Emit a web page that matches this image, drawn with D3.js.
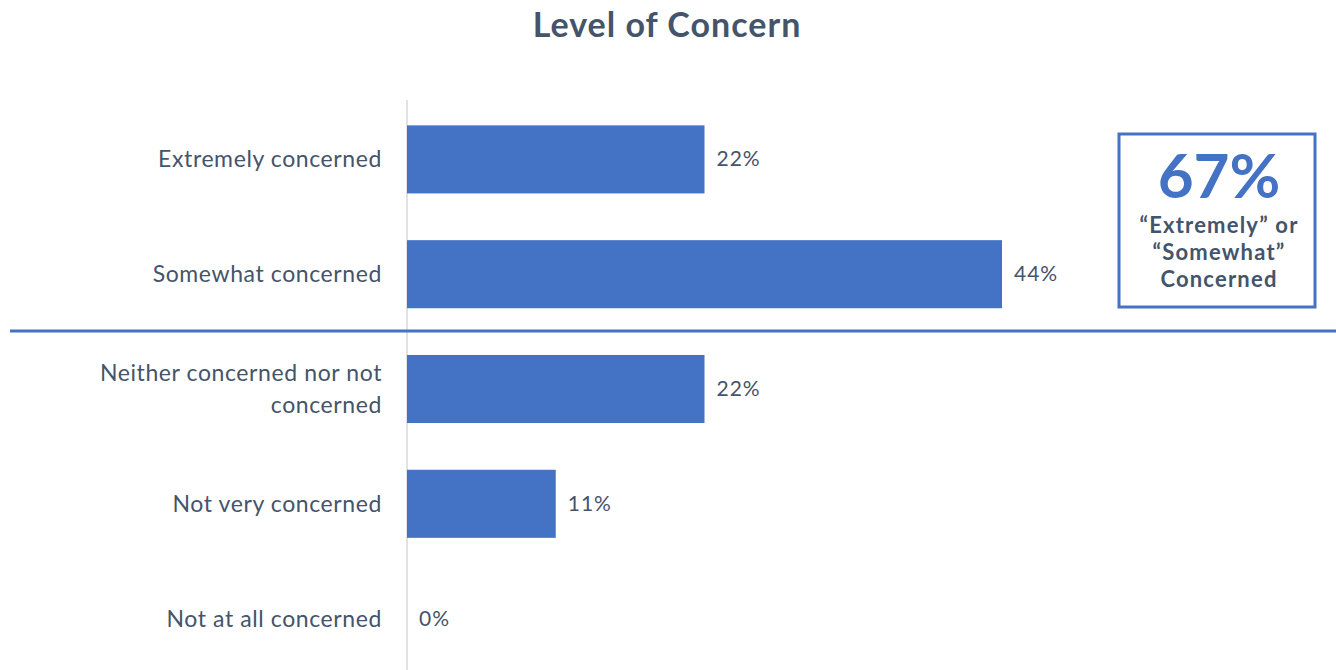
<!DOCTYPE html>
<html>
<head>
<meta charset="utf-8">
<script src="https://cdn.jsdelivr.net/npm/d3@7"></script>
<style>
body{margin:0;background:#fff}
text{font-family:Lato,"Open Sans",sans-serif}
</style>
</head>
<body>
<div id="chart"></div>
<script>
var width = 1336
var height = 670

// data
var categories = ["Extremely concerned","Somewhat concerned","Neither concerned nor not concerned","Not very concerned","Not at all concerned"]
var labelLines = [["Extremely concerned"],["Somewhat concerned"],["Neither concerned nor not","concerned"],["Not very concerned"],["Not at all concerned"]]
var values = [22,44,22,11,0]
var calloutValue = "67%"
var calloutLines = ["\u201cExtremely\u201d or","\u201cSomewhat\u201d","Concerned"]

var blue = "#4472C4"
var textCol = "#44546A"

var svg = d3.select("#chart").append("svg")
.attr("width",width)
.attr("height",height)

var x = d3.scaleLinear()
.domain([0,44])
.range([407,1002])

var y = d3.scaleBand()
.domain(categories)
.range([102,676])
.paddingInner(0.407)
.paddingOuter(0.2035)

// title
svg.append("text")
.attr("x",667)
.attr("y",37)
.attr("text-anchor","middle")
.text("Level of Concern")
.style("font-weight","bold")
.style("font-size","34px")
.style("letter-spacing","1px")
.style("fill",textCol)

// axis line
svg.append("line")
.attr("x1",x(0)).attr("x2",x(0))
.attr("y1",100).attr("y2",height)
.style("stroke","#d9d9d9")
.style("stroke-width",1.5)

svg.selectAll("rect.bar")
.data(values)
.enter()
.append("rect")
.attr("class","bar")
.attr("x",x(0))
.attr("y",(d,i)=>y(categories[i]))
.attr("width",(d)=>x(d)-x(0))
.attr("height",y.bandwidth())
.style("fill",blue)

// value labels
svg.selectAll("text.val")
.data(values)
.enter()
.append("text")
.attr("class","val")
.attr("x",(d)=>x(d)+12)
.attr("y",(d,i)=>y(categories[i])+y.bandwidth()/2+7)
.text((d)=>d+"%")
.style("font-size","21px")
.style("letter-spacing","1px")
.style("fill",textCol)

// category labels
labelLines.forEach((lines,i)=>{
  var cy = y(categories[i])+y.bandwidth()/2
  var lh = 32
  var t = svg.append("text")
  .attr("text-anchor","end")
  .style("font-size","23px")
  .style("letter-spacing","0.6px")
  .style("fill",textCol)
  lines.forEach((l,j)=>{
    t.append("tspan")
    .attr("x",382)
    .attr("y",cy+8+(j-(lines.length-1)/2)*lh)
    .text(l)
  })
})

// separator
svg.append("line")
.attr("x1",10).attr("x2",width)
.attr("y1",331).attr("y2",331)
.style("stroke",blue)
.style("stroke-width",3)

// callout box
svg.append("rect")
.attr("x",1119).attr("y",134)
.attr("width",196).attr("height",173)
.style("fill","none")
.style("stroke",blue)
.style("stroke-width",3)

svg.append("text")
.attr("x",1219).attr("y",198)
.attr("text-anchor","middle")
.text(calloutValue)
.style("font-weight","bold")
.style("font-size","62px")
.style("fill",blue)

calloutLines.forEach((l,i)=>{
  svg.append("text")
  .attr("x",1219)
  .attr("y",233+i*27)
  .attr("text-anchor","middle")
  .text(l)
  .style("font-weight","bold")
  .style("font-size","22px")
  .style("letter-spacing","1.2px")
  .style("fill",textCol)
})
</script>
</body>
</html>
